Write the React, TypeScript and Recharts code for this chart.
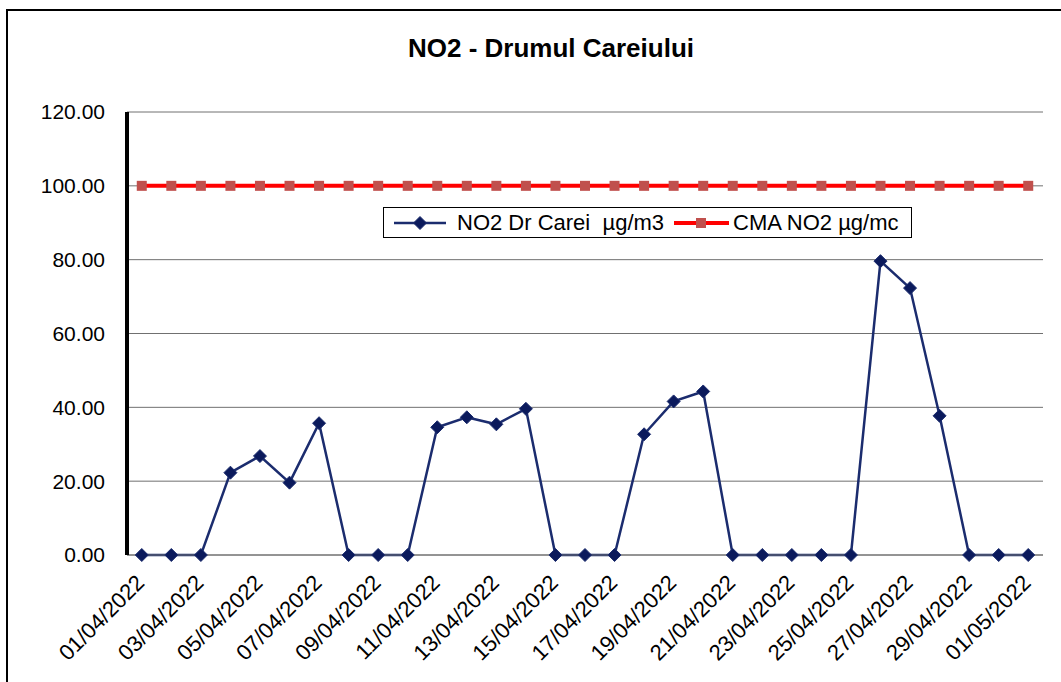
import { CartesianGrid, Line, LineChart, XAxis, YAxis } from "recharts";

const dates = [
  "01/04/2022", "02/04/2022", "03/04/2022", "04/04/2022", "05/04/2022", "06/04/2022",
  "07/04/2022", "08/04/2022", "09/04/2022", "10/04/2022", "11/04/2022", "12/04/2022",
  "13/04/2022", "14/04/2022", "15/04/2022", "16/04/2022", "17/04/2022", "18/04/2022",
  "19/04/2022", "20/04/2022", "21/04/2022", "22/04/2022", "23/04/2022", "24/04/2022",
  "25/04/2022", "26/04/2022", "27/04/2022", "28/04/2022", "29/04/2022", "30/04/2022",
  "01/05/2022",
];

const no2Values = [
  0, 0, 0, 22.3, 26.8, 19.6, 35.7, 0, 0, 0, 34.6, 37.3, 35.4, 39.6, 0, 0, 0, 32.7, 41.6, 44.3,
  0, 0, 0, 0, 0, 79.6, 72.3, 37.7, 0, 0, 0,
];

const cmaValues = [
  100, 100, 100, 100, 100, 100, 100, 100, 100, 100, 100, 100, 100, 100, 100, 100, 100, 100,
  100, 100, 100, 100, 100, 100, 100, 100, 100, 100, 100, 100, 100,
];

const yTicks = [0, 20, 40, 60, 80, 100, 120];

const NO2_NAME = "NO2 Dr Carei  µg/m3";
const CMA_NAME = "CMA NO2 µg/mc";

const data = dates.map((d, i) => ({ date: d, no2: no2Values[i], cma: cmaValues[i] }));

const FONT = '"Liberation Sans", Arial, sans-serif';
const NAVY = "#1b2c6e";
const NAVY_FILL = "#0b1a5c";
const RED = "#ff0000";
const SQUARE = "#c0504d";

const Diamond = (props: any) => {
  const { cx, cy } = props;
  if (cx == null || cy == null) return null;
  const r = 6.5;
  return (
    <path
      d={`M${cx},${cy - r} L${cx + r},${cy} L${cx},${cy + r} L${cx - r},${cy} Z`}
      fill={NAVY_FILL}
      stroke={NAVY}
      strokeWidth={1}
    />
  );
};

const Square = (props: any) => {
  const { cx, cy } = props;
  if (cx == null || cy == null) return null;
  return <rect x={cx - 5} y={cy - 5} width={10} height={10} fill={SQUARE} />;
};

const XTick = (props: any) => {
  const { x, y, payload } = props;
  return (
    <g transform={`translate(${x + 4},${y + 29})`}>
      <text textAnchor="end" transform="rotate(-45)" fontSize={22} fill="#000" fontFamily={FONT}>
        {payload.value}
      </text>
    </g>
  );
};

// legend drawn as a plain box so it doesn't eat into the plot area
const LegendBox = () => (
  <div
    style={{
      position: "absolute",
      left: 383,
      top: 207,
      width: 527,
      height: 29,
      border: "1px solid #000",
      background: "#fff",
      fontFamily: FONT,
      fontSize: 22,
      color: "#000",
    }}
  >
    <svg width={527} height={29} style={{ position: "absolute", left: 0, top: 0 }}>
      <line x1={10} x2={62} y1={15} y2={15} stroke={NAVY} strokeWidth={2.5} />
      <Diamond cx={36} cy={15} />
      <line x1={290} x2={345} y1={15} y2={15} stroke={RED} strokeWidth={4} />
      <Square cx={317} cy={15} />
    </svg>
    <span style={{ position: "absolute", left: 73, top: 2, lineHeight: "25px", whiteSpace: "pre" }}>
      {NO2_NAME}
    </span>
    <span style={{ position: "absolute", left: 349, top: 2, lineHeight: "25px", whiteSpace: "pre" }}>
      {CMA_NAME}
    </span>
  </div>
);

export default function App() {
  return (
    <div
      style={{
        position: "absolute",
        left: 0,
        top: 0,
        width: 1061,
        height: 682,
        background: "#fff",
        overflow: "hidden",
        fontFamily: FONT,
      }}
    >
      <div
        style={{
          position: "absolute",
          left: 6,
          top: 9,
          width: 1100,
          height: 700,
          borderTop: "2px solid #000",
          borderLeft: "2px solid #000",
        }}
      />
      <div
        style={{
          position: "absolute",
          left: 301,
          top: 35,
          width: 500,
          textAlign: "center",
          fontSize: 26,
          lineHeight: "26px",
          fontWeight: "bold",
          color: "#000",
        }}
      >
        NO2 - Drumul Careiului
      </div>
      <div style={{ position: "absolute", left: 0, top: 0 }}>
        <LineChart width={1061} height={682} data={data} margin={{ top: 112, right: 18, bottom: 0, left: 0 }}>
          <CartesianGrid vertical={false} stroke="#707070" strokeWidth={1} />
          <XAxis
            dataKey="date"
            scale="band"
            interval={1}
            height={127}
            tickLine={false}
            tickSize={0}
            tickMargin={0}
            axisLine={{ stroke: "#707070", strokeWidth: 1 }}
            tick={<XTick />}
          />
          <YAxis
            width={127}
            domain={[0, 120]}
            ticks={yTicks}
            tickFormatter={(v: number) => v.toFixed(2)}
            tickLine={false}
            tickSize={0}
            tickMargin={22}
            axisLine={{ stroke: "#000", strokeWidth: 4 }}
            tick={{ fill: "#000", fontSize: 21, fontFamily: FONT }}
          />
          <Line
            dataKey="cma"
            name={CMA_NAME}
            stroke={RED}
            strokeWidth={4}
            dot={<Square />}
            activeDot={false}
            isAnimationActive={false}
          />
          <Line
            dataKey="no2"
            name={NO2_NAME}
            stroke={NAVY}
            strokeWidth={2.5}
            dot={<Diamond />}
            activeDot={false}
            isAnimationActive={false}
          />
        </LineChart>
      </div>
      <LegendBox />
    </div>
  );
}
